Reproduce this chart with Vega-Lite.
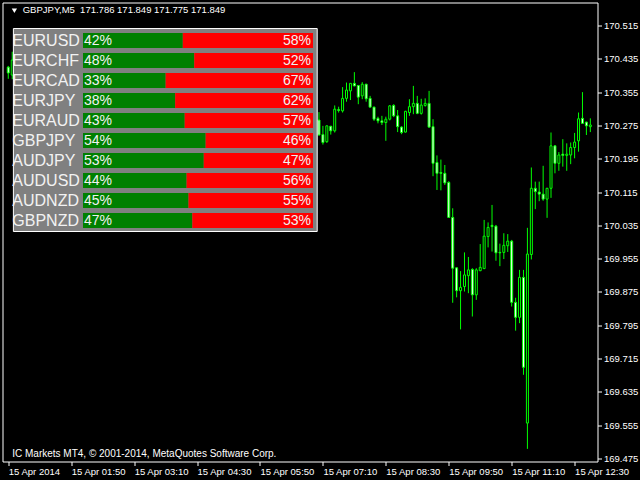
{
  "$schema": "https://vega.github.io/schema/vega-lite/v6.json",
  "width": 595,
  "height": 459,
  "padding": {"left": 2.5, "top": 2.5, "right": 10, "bottom": 10},
  "autosize": {"type": "pad"},
  "background": "#000000",
  "config": {
    "view": {"stroke": "#ffffff", "strokeWidth": 1, "fill": "#000000"},
    "font": "Liberation Sans",
    "axis": {"grid": false, "domain": false, "labelColor": "#ffffff", "tickColor": "#ffffff", "labelFont": "Liberation Sans", "labelFontSize": 9.5, "labelOverlap": false, "labelBound": false, "labelFlush": false}
  },
  "resolve": {"scale": {"x": "independent", "y": "independent"}, "axis": {"x": "independent", "y": "independent"}},
  "layer": [
    {
      "data": {"name": "candles", "values": [
        {"t": "2014-04-15T00:30", "o": 170.415, "h": 170.418, "l": 170.387, "c": 170.401},
        {"t": "2014-04-15T00:35", "o": 170.396, "h": 170.452, "l": 170.386, "c": 170.432},
        {"t": "2014-04-15T07:05", "o": 170.288, "h": 170.307, "l": 170.251, "c": 170.252},
        {"t": "2014-04-15T07:10", "o": 170.253, "h": 170.274, "l": 170.229, "c": 170.234},
        {"t": "2014-04-15T07:15", "o": 170.236, "h": 170.275, "l": 170.233, "c": 170.274},
        {"t": "2014-04-15T07:20", "o": 170.273, "h": 170.274, "l": 170.253, "c": 170.262},
        {"t": "2014-04-15T07:25", "o": 170.262, "h": 170.323, "l": 170.258, "c": 170.314},
        {"t": "2014-04-15T07:30", "o": 170.313, "h": 170.320, "l": 170.306, "c": 170.311},
        {"t": "2014-04-15T07:35", "o": 170.310, "h": 170.367, "l": 170.306, "c": 170.340},
        {"t": "2014-04-15T07:40", "o": 170.340, "h": 170.378, "l": 170.332, "c": 170.360},
        {"t": "2014-04-15T07:45", "o": 170.358, "h": 170.377, "l": 170.336, "c": 170.376},
        {"t": "2014-04-15T07:50", "o": 170.376, "h": 170.403, "l": 170.369, "c": 170.370},
        {"t": "2014-04-15T07:55", "o": 170.371, "h": 170.372, "l": 170.326, "c": 170.343},
        {"t": "2014-04-15T08:00", "o": 170.346, "h": 170.379, "l": 170.338, "c": 170.374},
        {"t": "2014-04-15T08:05", "o": 170.374, "h": 170.375, "l": 170.332, "c": 170.339},
        {"t": "2014-04-15T08:10", "o": 170.340, "h": 170.346, "l": 170.318, "c": 170.319},
        {"t": "2014-04-15T08:15", "o": 170.319, "h": 170.320, "l": 170.286, "c": 170.290},
        {"t": "2014-04-15T08:20", "o": 170.292, "h": 170.296, "l": 170.280, "c": 170.286},
        {"t": "2014-04-15T08:25", "o": 170.286, "h": 170.298, "l": 170.276, "c": 170.282},
        {"t": "2014-04-15T08:30", "o": 170.282, "h": 170.296, "l": 170.238, "c": 170.290},
        {"t": "2014-04-15T08:35", "o": 170.290, "h": 170.324, "l": 170.287, "c": 170.322},
        {"t": "2014-04-15T08:40", "o": 170.323, "h": 170.326, "l": 170.295, "c": 170.298},
        {"t": "2014-04-15T08:45", "o": 170.298, "h": 170.312, "l": 170.259, "c": 170.272},
        {"t": "2014-04-15T08:50", "o": 170.271, "h": 170.273, "l": 170.254, "c": 170.258},
        {"t": "2014-04-15T08:55", "o": 170.259, "h": 170.310, "l": 170.258, "c": 170.309},
        {"t": "2014-04-15T09:00", "o": 170.306, "h": 170.338, "l": 170.298, "c": 170.320},
        {"t": "2014-04-15T09:05", "o": 170.320, "h": 170.370, "l": 170.302, "c": 170.328},
        {"t": "2014-04-15T09:10", "o": 170.328, "h": 170.346, "l": 170.302, "c": 170.304},
        {"t": "2014-04-15T09:15", "o": 170.304, "h": 170.339, "l": 170.301, "c": 170.324},
        {"t": "2014-04-15T09:20", "o": 170.323, "h": 170.340, "l": 170.320, "c": 170.328},
        {"t": "2014-04-15T09:25", "o": 170.328, "h": 170.358, "l": 170.270, "c": 170.271},
        {"t": "2014-04-15T09:30", "o": 170.272, "h": 170.290, "l": 170.153, "c": 170.184},
        {"t": "2014-04-15T09:35", "o": 170.186, "h": 170.203, "l": 170.120, "c": 170.160},
        {"t": "2014-04-15T09:40", "o": 170.162, "h": 170.193, "l": 170.119, "c": 170.160},
        {"t": "2014-04-15T09:45", "o": 170.160, "h": 170.180, "l": 170.132, "c": 170.137},
        {"t": "2014-04-15T09:50", "o": 170.138, "h": 170.141, "l": 170.053, "c": 170.054},
        {"t": "2014-04-15T09:55", "o": 170.054, "h": 170.076, "l": 169.849, "c": 169.932},
        {"t": "2014-04-15T10:00", "o": 169.933, "h": 169.934, "l": 169.862, "c": 169.878},
        {"t": "2014-04-15T10:05", "o": 169.878, "h": 169.925, "l": 169.785, "c": 169.886},
        {"t": "2014-04-15T10:10", "o": 169.888, "h": 169.970, "l": 169.876, "c": 169.916},
        {"t": "2014-04-15T10:15", "o": 169.914, "h": 169.959, "l": 169.872, "c": 169.928},
        {"t": "2014-04-15T10:20", "o": 169.929, "h": 169.932, "l": 169.816, "c": 169.868},
        {"t": "2014-04-15T10:25", "o": 169.868, "h": 169.932, "l": 169.856, "c": 169.928},
        {"t": "2014-04-15T10:30", "o": 169.926, "h": 169.990, "l": 169.925, "c": 169.934},
        {"t": "2014-04-15T10:35", "o": 169.931, "h": 170.048, "l": 169.930, "c": 170.009},
        {"t": "2014-04-15T10:40", "o": 170.008, "h": 170.042, "l": 169.982, "c": 170.030},
        {"t": "2014-04-15T10:45", "o": 170.035, "h": 170.084, "l": 169.972, "c": 170.032},
        {"t": "2014-04-15T10:50", "o": 170.033, "h": 170.036, "l": 169.950, "c": 169.969},
        {"t": "2014-04-15T10:55", "o": 169.970, "h": 169.991, "l": 169.937, "c": 169.969},
        {"t": "2014-04-15T11:00", "o": 169.970, "h": 170.016, "l": 169.954, "c": 169.987},
        {"t": "2014-04-15T11:05", "o": 169.986, "h": 170.014, "l": 169.971, "c": 169.997},
        {"t": "2014-04-15T11:10", "o": 169.997, "h": 170.000, "l": 169.840, "c": 169.850},
        {"t": "2014-04-15T11:15", "o": 169.850, "h": 169.861, "l": 169.782, "c": 169.814},
        {"t": "2014-04-15T11:20", "o": 169.814, "h": 169.928, "l": 169.800, "c": 169.910},
        {"t": "2014-04-15T11:25", "o": 169.910, "h": 169.928, "l": 169.676, "c": 169.694},
        {"t": "2014-04-15T11:30", "o": 169.560, "h": 170.029, "l": 169.498, "c": 169.966},
        {"t": "2014-04-15T11:35", "o": 169.965, "h": 170.174, "l": 169.953, "c": 170.124},
        {"t": "2014-04-15T11:40", "o": 170.124, "h": 170.140, "l": 170.074, "c": 170.116},
        {"t": "2014-04-15T11:45", "o": 170.115, "h": 170.140, "l": 170.093, "c": 170.110},
        {"t": "2014-04-15T11:50", "o": 170.110, "h": 170.178, "l": 170.094, "c": 170.098},
        {"t": "2014-04-15T11:55", "o": 170.098, "h": 170.125, "l": 170.053, "c": 170.124},
        {"t": "2014-04-15T12:00", "o": 170.124, "h": 170.258, "l": 170.101, "c": 170.226},
        {"t": "2014-04-15T12:05", "o": 170.226, "h": 170.227, "l": 170.160, "c": 170.184},
        {"t": "2014-04-15T12:10", "o": 170.184, "h": 170.211, "l": 170.166, "c": 170.204},
        {"t": "2014-04-15T12:15", "o": 170.206, "h": 170.242, "l": 170.176, "c": 170.203},
        {"t": "2014-04-15T12:20", "o": 170.203, "h": 170.232, "l": 170.166, "c": 170.206},
        {"t": "2014-04-15T12:25", "o": 170.204, "h": 170.234, "l": 170.182, "c": 170.222},
        {"t": "2014-04-15T12:30", "o": 170.222, "h": 170.257, "l": 170.196, "c": 170.235},
        {"t": "2014-04-15T12:35", "o": 170.238, "h": 170.306, "l": 170.212, "c": 170.291},
        {"t": "2014-04-15T12:40", "o": 170.292, "h": 170.355, "l": 170.279, "c": 170.280},
        {"t": "2014-04-15T12:45", "o": 170.283, "h": 170.284, "l": 170.252, "c": 170.274},
        {"t": "2014-04-15T12:50", "o": 170.272, "h": 170.292, "l": 170.259, "c": 170.276}
      ]},
      "layer": [
        {
          "mark": {"type": "rule", "color": "#00ff00", "strokeWidth": 1},
          "encoding": {
            "x": {"field": "t", "type": "temporal",
              "scale": {"domain": [{"year": 2014, "month": 4, "date": 15, "hours": 0, "minutes": 29}, {"year": 2014, "month": 4, "date": 15, "hours": 12, "minutes": 52, "seconds": 45}]},
              "axis": {"title": null, "orient": "bottom", "tickCount": 40,
                "values": [
                  {"year": 2014, "month": 4, "date": 15, "hours": 0, "minutes": 30},
                  {"year": 2014, "month": 4, "date": 15, "hours": 1, "minutes": 50},
                  {"year": 2014, "month": 4, "date": 15, "hours": 3, "minutes": 10},
                  {"year": 2014, "month": 4, "date": 15, "hours": 4, "minutes": 30},
                  {"year": 2014, "month": 4, "date": 15, "hours": 5, "minutes": 50},
                  {"year": 2014, "month": 4, "date": 15, "hours": 7, "minutes": 10},
                  {"year": 2014, "month": 4, "date": 15, "hours": 8, "minutes": 30},
                  {"year": 2014, "month": 4, "date": 15, "hours": 9, "minutes": 50},
                  {"year": 2014, "month": 4, "date": 15, "hours": 11, "minutes": 10},
                  {"year": 2014, "month": 4, "date": 15, "hours": 12, "minutes": 30}
                ],
                "labelExpr": "timeFormat(datum.value, '%H:%M') === '00:30' ? '15 Apr 2014' : timeFormat(datum.value, '%d %b %H:%M')",
                "labelAlign": "left", "labelDx": 1, "tickSize": 4, "labelPadding": 1,
                "labelOverlap": false, "labelBound": false, "labelFlush": false}},
            "y": {"field": "l", "type": "quantitative",
              "scale": {"domain": [169.4677, 170.5703], "zero": false, "nice": false},
              "axis": {"title": null, "orient": "right", "tickCount": 40,
                "values": [169.475, 169.555, 169.635, 169.715, 169.795, 169.875, 169.955, 170.035, 170.115, 170.195, 170.275, 170.355, 170.435, 170.515],
                "format": ".3f", "tickSize": 4, "labelPadding": 2, "labelOverlap": false, "labelBound": false, "labelFlush": false}},
            "y2": {"field": "h"}
          }
        },
        {
          "mark": {"type": "bar", "size": 2, "stroke": "#00ff00", "strokeWidth": 1},
          "encoding": {
            "x": {"field": "t", "type": "temporal",
              "scale": {"domain": [{"year": 2014, "month": 4, "date": 15, "hours": 0, "minutes": 29}, {"year": 2014, "month": 4, "date": 15, "hours": 12, "minutes": 52, "seconds": 45}]},
              "axis": {"title": null}},
            "y": {"field": "o", "type": "quantitative", "scale": {"domain": [169.4677, 170.5703], "zero": false, "nice": false}, "axis": {"title": null}},
            "y2": {"field": "c"},
            "fill": {"condition": {"test": "datum.c >= datum.o", "value": "#000000"}, "value": "#ffffff"}
          }
        },
        {
          "data": {"values": [{"panel": "pairs"}]},
          "mark": {"type": "rect", "fill": "#808080", "stroke": "#ffffff", "strokeWidth": 1},
          "encoding": {
            "x": {"datum": {"year": 2014, "month": 4, "date": 15, "hours": 0, "minutes": 36, "seconds": 30}, "type": "temporal",
              "scale": {"domain": [{"year": 2014, "month": 4, "date": 15, "hours": 0, "minutes": 29}, {"year": 2014, "month": 4, "date": 15, "hours": 12, "minutes": 52, "seconds": 45}]},
              "axis": {"title": null}},
            "x2": {"datum": {"year": 2014, "month": 4, "date": 15, "hours": 7, "minutes": 2, "seconds": 45}},
            "y": {"datum": 170.5078, "type": "quantitative", "scale": {"domain": [169.4677, 170.5703], "zero": false, "nice": false}, "axis": {"title": null}},
            "y2": {"datum": 170.0202}
          }
        },
        {
          "data": {"values": [{"header": "symbol"}]},
          "mark": {"type": "point", "shape": "triangle-down", "filled": true, "fill": "#ffffff", "size": 28, "strokeWidth": 0, "opacity": 1},
          "encoding": {
            "x": {"datum": {"year": 2014, "month": 4, "date": 15, "hours": 0, "minutes": 37, "seconds": 45}, "type": "temporal",
              "scale": {"domain": [{"year": 2014, "month": 4, "date": 15, "hours": 0, "minutes": 29}, {"year": 2014, "month": 4, "date": 15, "hours": 12, "minutes": 52, "seconds": 45}]},
              "axis": {"title": null}},
            "y": {"datum": 170.5504, "type": "quantitative", "scale": {"domain": [169.4677, 170.5703], "zero": false, "nice": false}, "axis": {"title": null}}
          }
        },
        {
          "data": {"values": [{"header": "symbol"}]},
          "mark": {"type": "text", "text": "GBPJPY,M5\u00a0\u00a0171.786 171.849 171.775 171.849", "align": "left", "baseline": "middle", "fontSize": 9.5, "color": "#ffffff", "font": "Liberation Sans"},
          "encoding": {
            "x": {"datum": {"year": 2014, "month": 4, "date": 15, "hours": 0, "minutes": 48, "seconds": 22}, "type": "temporal",
              "scale": {"domain": [{"year": 2014, "month": 4, "date": 15, "hours": 0, "minutes": 29}, {"year": 2014, "month": 4, "date": 15, "hours": 12, "minutes": 52, "seconds": 45}]},
              "axis": {"title": null}},
            "y": {"datum": 170.5511, "type": "quantitative", "scale": {"domain": [169.4677, 170.5703], "zero": false, "nice": false}, "axis": {"title": null}}
          }
        },
        {
          "data": {"values": [{"footer": "copyright"}]},
          "mark": {"type": "text", "text": "IC Markets MT4, © 2001-2014, MetaQuotes Software Corp.", "align": "left", "baseline": "middle", "fontSize": 10, "color": "#ffffff", "font": "Liberation Sans"},
          "encoding": {
            "x": {"datum": {"year": 2014, "month": 4, "date": 15, "hours": 0, "minutes": 35}, "type": "temporal",
              "scale": {"domain": [{"year": 2014, "month": 4, "date": 15, "hours": 0, "minutes": 29}, {"year": 2014, "month": 4, "date": 15, "hours": 12, "minutes": 52, "seconds": 45}]},
              "axis": {"title": null}},
            "y": {"datum": 169.4846, "type": "quantitative", "scale": {"domain": [169.4677, 170.5703], "zero": false, "nice": false}, "axis": {"title": null}}
          }
        }
      ]
    },
    {
      "data": {"name": "pairs", "values": [
        {"pair": "EURUSD", "buy": 0.42, "sell": 0.58},
        {"pair": "EURCHF", "buy": 0.48, "sell": 0.52},
        {"pair": "EURCAD", "buy": 0.33, "sell": 0.67},
        {"pair": "EURJPY", "buy": 0.38, "sell": 0.62},
        {"pair": "EURAUD", "buy": 0.43, "sell": 0.57},
        {"pair": "GBPJPY", "buy": 0.54, "sell": 0.46},
        {"pair": "AUDJPY", "buy": 0.53, "sell": 0.47},
        {"pair": "AUDUSD", "buy": 0.44, "sell": 0.56},
        {"pair": "AUDNZD", "buy": 0.45, "sell": 0.55},
        {"pair": "GBPNZD", "buy": 0.47, "sell": 0.53}
      ]},
      "layer": [
        {
          "mark": {"type": "bar", "fill": "#008000", "orient": "horizontal"},
          "encoding": {
            "y": {"field": "pair", "type": "nominal", "axis": null,
              "scale": {"type": "band", "domain": ["EURUSD", "EURCHF", "EURCAD", "EURJPY", "EURAUD", "GBPJPY", "AUDJPY", "AUDUSD", "AUDNZD", "GBPNZD"], "range": [30.5, 225.5], "paddingInner": 0.25, "paddingOuter": 0}},
            "x": {"field": "buy", "type": "quantitative", "scale": {"domain": [-0.52651, 2.59685], "zero": false, "nice": false}, "axis": null},
            "x2": {"datum": -0.10394}
          }
        },
        {
          "mark": {"type": "bar", "fill": "#ff0000", "orient": "horizontal"},
          "encoding": {
            "y": {"field": "pair", "type": "nominal", "axis": null,
              "scale": {"type": "band", "domain": ["EURUSD", "EURCHF", "EURCAD", "EURJPY", "EURAUD", "GBPJPY", "AUDJPY", "AUDUSD", "AUDNZD", "GBPNZD"], "range": [30.5, 225.5], "paddingInner": 0.25, "paddingOuter": 0}},
            "x": {"field": "buy", "type": "quantitative", "scale": {"domain": [-0.52651, 2.59685], "zero": false, "nice": false}, "axis": null},
            "x2": {"datum": 1.10341}
          }
        },
        {
          "mark": {"type": "text", "align": "left", "baseline": "middle", "fontSize": 16, "color": "#f2f2f2", "font": "Liberation Sans"},
          "encoding": {
            "y": {"field": "pair", "type": "nominal", "axis": null,
              "scale": {"type": "band", "domain": ["EURUSD", "EURCHF", "EURCAD", "EURJPY", "EURAUD", "GBPJPY", "AUDJPY", "AUDUSD", "AUDNZD", "GBPNZD"], "range": [30.5, 225.5], "paddingInner": 0.25, "paddingOuter": 0}},
            "x": {"datum": -0.47507, "type": "quantitative", "scale": {"domain": [-0.52651, 2.59685], "zero": false, "nice": false}, "axis": null},
            "text": {"field": "pair"}
          }
        },
        {
          "mark": {"type": "text", "align": "left", "baseline": "middle", "dx": 1, "fontSize": 14, "color": "#f2f2f2", "font": "Liberation Sans"},
          "encoding": {
            "y": {"field": "pair", "type": "nominal", "axis": null,
              "scale": {"type": "band", "domain": ["EURUSD", "EURCHF", "EURCAD", "EURJPY", "EURAUD", "GBPJPY", "AUDJPY", "AUDUSD", "AUDNZD", "GBPNZD"], "range": [30.5, 225.5], "paddingInner": 0.25, "paddingOuter": 0}},
            "x": {"datum": -0.10394, "type": "quantitative", "scale": {"domain": [-0.52651, 2.59685], "zero": false, "nice": false}, "axis": null},
            "text": {"field": "buy", "type": "quantitative", "format": ".0%"}
          }
        },
        {
          "mark": {"type": "text", "align": "right", "baseline": "middle", "dx": -2, "fontSize": 14, "color": "#f2f2f2", "font": "Liberation Sans"},
          "encoding": {
            "y": {"field": "pair", "type": "nominal", "axis": null,
              "scale": {"type": "band", "domain": ["EURUSD", "EURCHF", "EURCAD", "EURJPY", "EURAUD", "GBPJPY", "AUDJPY", "AUDUSD", "AUDNZD", "GBPNZD"], "range": [30.5, 225.5], "paddingInner": 0.25, "paddingOuter": 0}},
            "x": {"datum": 1.10341, "type": "quantitative", "scale": {"domain": [-0.52651, 2.59685], "zero": false, "nice": false}, "axis": null},
            "text": {"field": "sell", "type": "quantitative", "format": ".0%"}
          }
        }
      ]
    }
  ]
}
